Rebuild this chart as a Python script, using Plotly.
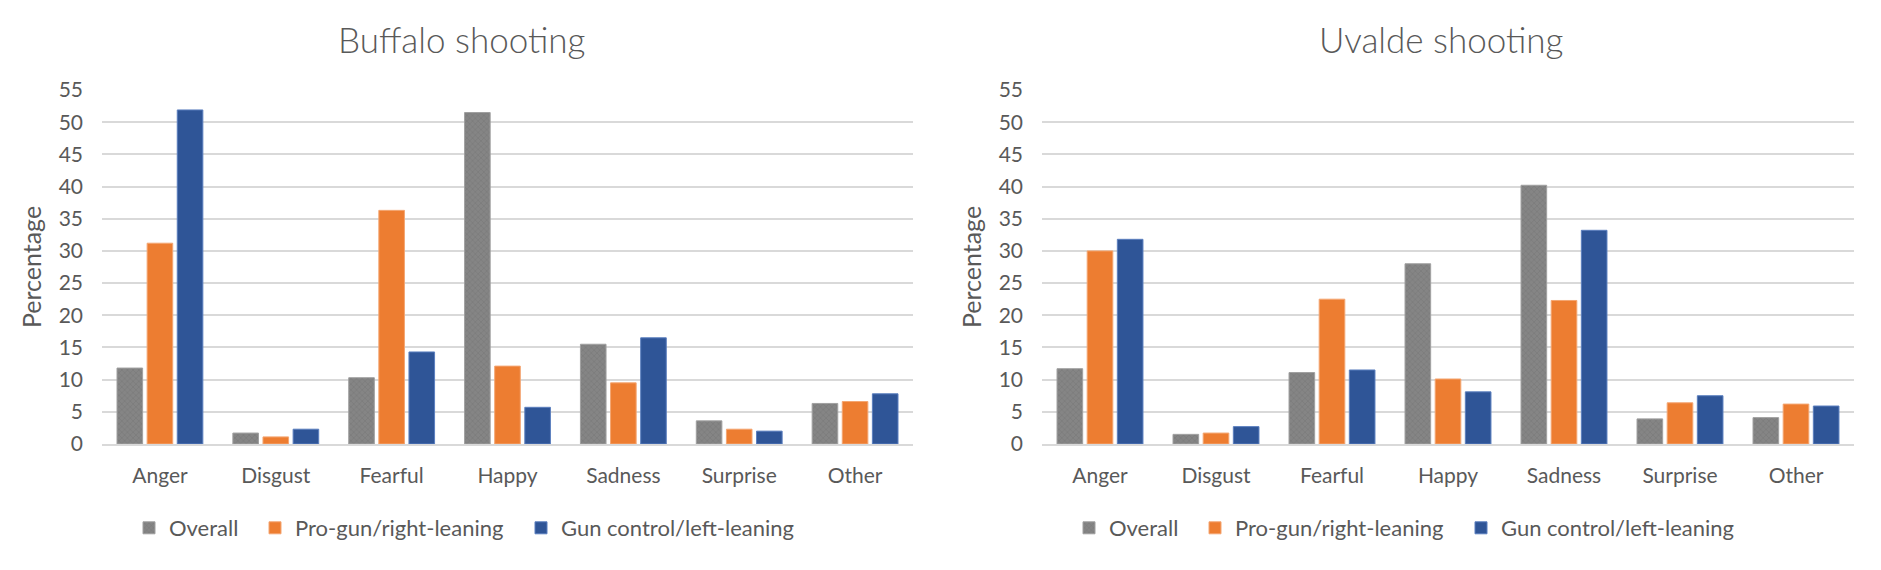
import plotly.graph_objects as go

categories = ["Anger", "Disgust", "Fearful", "Happy", "Sadness", "Surprise", "Other"]
series_names = ["Overall", "Pro-gun/right-leaning", "Gun control/left-leaning"]

buffalo_overall = [11.8, 1.7, 10.3, 51.5, 15.5, 3.6, 6.3]
buffalo_progun = [31.2, 1.1, 36.3, 12.1, 9.5, 2.3, 6.6]
buffalo_guncontrol = [51.9, 2.3, 14.3, 5.7, 16.5, 2.0, 7.8]

uvalde_overall = [11.7, 1.5, 11.1, 28.0, 40.2, 3.9, 4.1]
uvalde_progun = [30.0, 1.7, 22.5, 10.1, 22.3, 6.4, 6.2]
uvalde_guncontrol = [31.8, 2.7, 11.5, 8.1, 33.2, 7.5, 5.9]

y_tick_values = list(range(0, 56, 5))
chart_titles = ["Buffalo shooting", "Uvalde shooting"]
y_axis_title = "Percentage"

W, H = 1881, 570
OFF = 8  # page body margin
FONT = "Lato"
TXT = "#595959"
GRID = "#d9d9d9"

styles = [
    dict(color="#7f7f7f", line=dict(color="#a0a0a0", width=1),
         pattern=dict(shape="x", size=4, solidity=0.25, fgcolor="#6b6b6b", bgcolor="#858585")),
    dict(color="#ed7d31", line=dict(color="#f4a672", width=1)),
    dict(color="#2f5597", line=dict(color="#5b7fbf", width=1)),
]

fig = go.Figure()
charts = [
    ("x", "y", [buffalo_overall, buffalo_progun, buffalo_guncontrol]),
    ("x2", "y2", [uvalde_overall, uvalde_progun, uvalde_guncontrol]),
]
legend_ids = [["legend", "legend2", "legend3"], ["legend4", "legend5", "legend6"]]
for ci, (xa, ya, series) in enumerate(charts):
    for si, vals in enumerate(series):
        fig.add_trace(go.Bar(
            x=categories, y=vals, name=series_names[si], xaxis=xa, yaxis=ya,
            marker=styles[si], legend=legend_ids[ci][si], showlegend=True,
        ))


def px_x(p):
    return (p - OFF) / W


def px_y(p):
    return 1 - (p - OFF) / H


y_dom = [px_y(444), px_y(90)]
axis_font = dict(family=FONT, size=21, color=TXT)

common_x = dict(showgrid=False, showline=True, linecolor=GRID, linewidth=2,
                ticks="outside", ticklen=12, tickcolor="rgba(0,0,0,0)",
                tickfont=axis_font, automargin=False)
common_y = dict(range=[0, 55], tickvals=y_tick_values, showgrid=True, gridcolor=GRID,
                gridwidth=1.5, zeroline=False, showline=False, ticks="",
                ticklabelstandoff=18, tickfont=axis_font, automargin=False,
                title=dict(text=y_axis_title, font=dict(family=FONT, size=25, color=TXT),
                           standoff=9))

title_font = dict(family=FONT, size=35, color=TXT, weight=300)
layout = dict(
    width=W, height=H,
    margin=dict(l=0, r=0, t=0, b=0, autoexpand=False),
    paper_bgcolor="white", plot_bgcolor="white",
    barmode="group", bargap=0.22, bargroupgap=0.15,
    font=dict(family=FONT, color=TXT),
    xaxis=dict(domain=[px_x(102), px_x(913)], anchor="y", **common_x),
    yaxis=dict(domain=y_dom, anchor="x", **common_y),
    xaxis2=dict(domain=[px_x(1042), px_x(1854)], anchor="y2", **common_x),
    yaxis2=dict(domain=y_dom, anchor="x2", **common_y),
    annotations=[
        dict(text=chart_titles[0], x=px_x(461), y=px_y(39), xref="paper", yref="paper",
             xanchor="center", yanchor="middle", showarrow=False, font=title_font),
        dict(text=chart_titles[1], x=px_x(1441), y=px_y(39), xref="paper", yref="paper",
             xanchor="center", yanchor="middle", showarrow=False, font=title_font),
    ],
)

symbol_centers = [[149, 275, 541], [1089, 1215, 1481]]
for ci in range(2):
    for si in range(3):
        layout[legend_ids[ci][si]] = dict(
            x=px_x(symbol_centers[ci][si] - 20), xanchor="left",
            y=px_y(528), yanchor="middle", orientation="h",
            bgcolor="rgba(0,0,0,0)", borderwidth=0,
            font=dict(family=FONT, size=22, color=TXT),
        )

fig.update_layout(**layout)
fig.write_html("out.html")
